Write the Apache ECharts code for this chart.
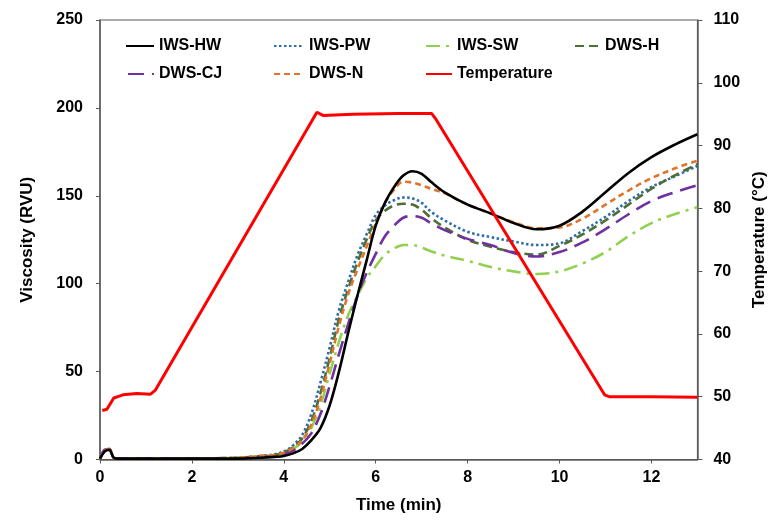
<!DOCTYPE html>
<html>
<head>
<meta charset="utf-8">
<script src="https://cdn.jsdelivr.net/npm/echarts@6/dist/echarts.min.js"></script>
<style>
html,body{margin:0;padding:0;background:#fff;}
#chart{width:776px;height:523px;}
</style>
</head>
<body>
<div id="chart"></div>
<script>
// Time grid (min) shared by the viscosity curves
var TIME = [0, 0.1, 0.2, 0.3, 0.4, 0.6, 1, 1.5, 2, 2.5, 3, 3.5, 3.8, 4, 4.2, 4.4, 4.6, 4.8, 5, 5.2, 5.4, 5.6, 5.8, 6, 6.2, 6.4, 6.6, 6.8, 7, 7.2, 7.5, 8, 8.5, 9, 9.5, 10, 10.5, 11, 11.5, 12, 12.5, 13];

// Viscosity (RVU)
var IWS_HW = [0.5, 4.5, 5.5, 1, 0.5, 0.5, 0.5, 0.5, 0.5, 0.5, 0.5, 1, 1.5, 2, 3.5, 6, 11, 18, 31, 50, 72, 93, 113, 133, 146, 155, 161.5, 164, 162.5, 158, 152, 145, 140, 134.5, 131, 133, 141, 152, 163, 172, 179, 185];
var IWS_PW = [0.5, 5, 6, 1, 0.5, 0.5, 0.5, 0.5, 0.5, 0.7, 1, 2, 3, 4.5, 8, 14, 26, 44, 64, 85, 101, 116, 128, 139, 144.5, 147.5, 149, 148.5, 146, 141, 136, 129.5, 126.5, 124, 122, 123, 130, 138, 147, 155, 161, 167];
var IWS_SW = [0.5, 5, 6, 1, 0.5, 0.5, 0.5, 0.5, 0.5, 0.7, 1, 2, 2.5, 3.5, 6, 10, 18, 31, 49, 67, 82, 93, 103, 110, 116.5, 120, 122, 122, 120.5, 118.5, 116, 113, 109.5, 107, 105.5, 107, 111.5, 118, 127, 134.5, 139.5, 143.5];
var DWS_H = [0.5, 5, 6, 1, 0.5, 0.5, 0.5, 0.5, 0.5, 0.7, 1, 2, 2.5, 4, 7, 12, 22, 38, 58, 80, 97, 112, 125, 136, 141.5, 144.5, 145.5, 145, 142, 137.5, 132, 125, 121, 118, 116.5, 121.5, 128, 136, 145, 154, 161.5, 168];
var DWS_CJ = [0.5, 5.5, 6, 1, 0.5, 0.5, 0.5, 0.5, 0.5, 0.5, 0.7, 1.5, 2, 3, 5, 9, 15, 26, 42, 60, 77, 93, 106, 117, 127, 133, 137.5, 138.5, 137.5, 134.5, 130.5, 125.5, 122, 117.5, 115.5, 118, 123.5, 131, 139.5, 147, 152, 156];
var DWS_N = [0.5, 5, 6, 1, 0.5, 0.5, 0.5, 0.5, 0.5, 0.7, 1, 2, 2.5, 4, 6.5, 11, 20, 35, 55, 76, 94, 108, 121, 134, 146, 153.5, 158, 157.5, 156, 154, 151.5, 145, 140, 135, 131.5, 132, 137, 145, 153, 160, 165.5, 170];

// Temperature profile (°C)
var TEMP_TIME = [0.05, 0.15, 0.3, 0.5, 0.8, 1.1, 1.2, 4.72, 4.85, 5.5, 6.5, 7.22, 7.3, 10.98, 11.08, 12, 13];
var TEMP_VAL = [47.8, 48.0, 49.8, 50.3, 50.5, 50.4, 51.0, 95.3, 94.8, 95.0, 95.1, 95.1, 94.3, 50.3, 50.0, 50.0, 49.9];

// Tick settings
var X_TICKS = [0, 13, 2];
var Y_LEFT = [0, 250, 50];
var Y_RIGHT = [40, 110, 10];

function pairs(xs, ys) { return xs.map(function (x, i) { return [x, ys[i]]; }); }

var FONT = '"Liberation Sans", Arial, sans-serif';
var AX = '#595959';

var seriesDefs = [
  { name: 'IWS-PW', data: IWS_PW, color: '#2E6DA8', type: [2.5, 2.5], width: 2.6 },
  { name: 'IWS-SW', data: IWS_SW, color: '#92D050', type: [14, 6, 3, 6], width: 2.6 },
  { name: 'DWS-H', data: DWS_H, color: '#4E6E35', type: [9, 5], width: 2.6 },
  { name: 'DWS-CJ', data: DWS_CJ, color: '#7030A0', type: [16, 8], width: 2.6 },
  { name: 'DWS-N', data: DWS_N, color: '#E0742B', type: [6, 4], width: 2.6 },
  { name: 'IWS-HW', data: IWS_HW, color: '#000000', type: 'solid', width: 2.6 }
];

var series = seriesDefs.map(function (d) {
  return {
    name: d.name, type: 'line', xAxisIndex: 0, yAxisIndex: 0,
    data: pairs(TIME, d.data), smooth: 0.35, symbol: 'none',
    color: d.color,
    lineStyle: { color: d.color, width: d.width, type: d.type },
    animation: false
  };
});
series.push({
  name: 'Temperature', type: 'line', xAxisIndex: 0, yAxisIndex: 1,
  data: pairs(TEMP_TIME, TEMP_VAL), smooth: false, symbol: 'none',
  color: '#FF0000',
  lineStyle: { color: '#FF0000', width: 3 }, animation: false
});

function legendItem(name, left, top, w) {
  return {
    data: [name], left: left, top: top, itemWidth: w, itemHeight: 14,
    itemGap: 0, padding: 0, selectedMode: false,
    itemStyle: { opacity: 0 },
    textStyle: { fontFamily: FONT, fontWeight: 'bold', fontSize: 16, color: '#000' }
  };
}

var option = {
  animation: false,
  backgroundColor: '#fff',
  grid: { left: 100, right: 76, top: 20, bottom: 63.5, show: true, borderColor: AX, borderWidth: 1, backgroundColor: 'transparent' },
  legend: [
    legendItem('IWS-HW', 125, 38, 28),
    legendItem('IWS-PW', 273, 38, 30),
    legendItem('IWS-SW', 425, 38, 26),
    legendItem('DWS-H', 574, 38, 25),
    legendItem('DWS-CJ', 127, 66, 26),
    legendItem('DWS-N', 273, 66, 30),
    legendItem('Temperature', 425, 66, 26)
  ],
  xAxis: {
    type: 'value', min: X_TICKS[0], max: X_TICKS[1], interval: X_TICKS[2],
    name: 'Time (min)', nameLocation: 'middle', nameGap: 37,
    nameTextStyle: { fontFamily: FONT, fontWeight: 'bold', fontSize: 17, color: '#000' },
    axisLine: { show: true, lineStyle: { color: AX, width: 1.5 } },
    axisTick: { show: true, inside: false, length: 4, lineStyle: { color: AX } },
    axisLabel: { margin: 10, fontFamily: FONT, fontWeight: 'bold', fontSize: 16, color: '#000', showMaxLabel: false },
    splitLine: { show: false }
  },
  yAxis: [
    {
      type: 'value', min: Y_LEFT[0], max: Y_LEFT[1], interval: Y_LEFT[2], position: 'left',
      name: 'Viscosity (RVU)', nameLocation: 'middle', nameGap: 64,
      nameTextStyle: { fontFamily: FONT, fontWeight: 'bold', fontSize: 17, color: '#000' },
      axisLine: { show: true, lineStyle: { color: AX, width: 1.5 } },
      axisTick: { show: true, inside: false, length: 4, lineStyle: { color: AX } },
      axisLabel: { margin: 17, fontFamily: FONT, fontWeight: 'bold', fontSize: 16, color: '#000' },
      splitLine: { show: false }
    },
    {
      type: 'value', min: Y_RIGHT[0], max: Y_RIGHT[1], interval: Y_RIGHT[2], position: 'right',
      name: 'Temperature (°C)', nameLocation: 'middle', nameGap: 41,
      nameTextStyle: { fontFamily: FONT, fontWeight: 'bold', fontSize: 17, color: '#000' },
      axisLine: { show: true, lineStyle: { color: AX, width: 1.5 } },
      axisTick: { show: true, inside: false, length: 5, lineStyle: { color: AX } },
      axisLabel: { margin: 16, fontFamily: FONT, fontWeight: 'bold', fontSize: 16, color: '#000' },
      splitLine: { show: false }
    }
  ],
  series: series
};

var chart = echarts.init(document.getElementById('chart'), null, { renderer: 'canvas' });
chart.setOption(option);
</script>
</body>
</html>
